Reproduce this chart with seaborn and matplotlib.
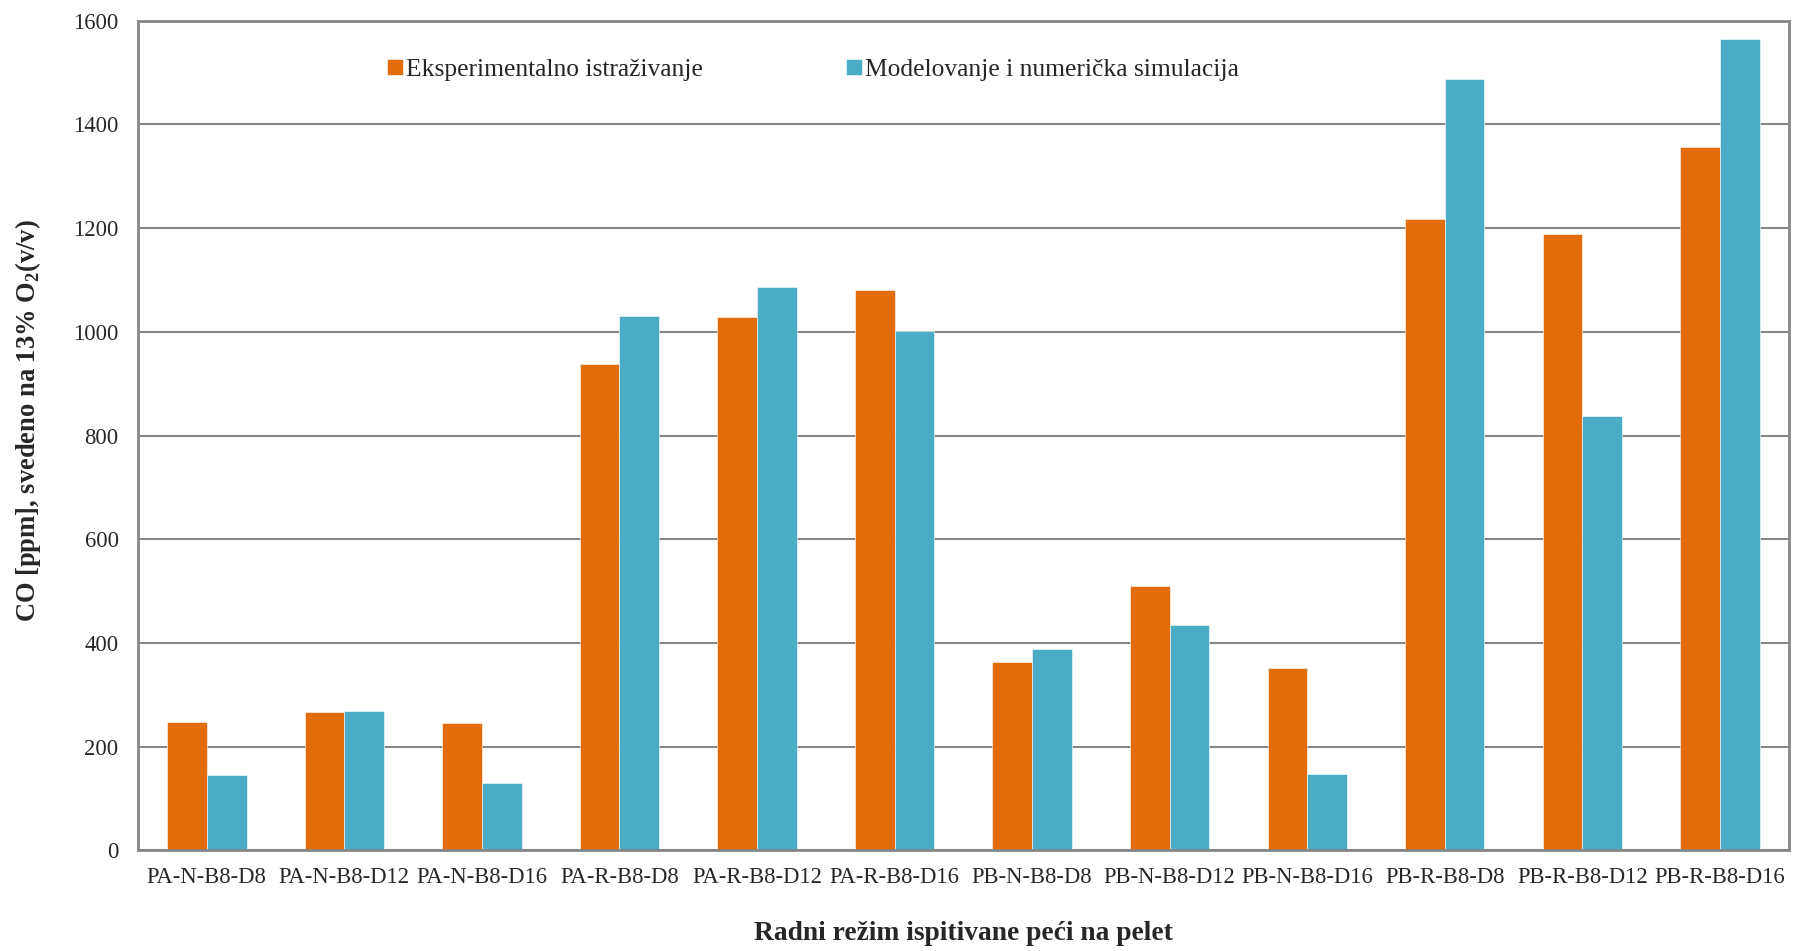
import numpy as np
import pandas as pd
import seaborn as sns
import matplotlib.pyplot as plt
from matplotlib.ticker import MultipleLocator, FixedLocator

rezimi = ['PA-N-B8-D8', 'PA-N-B8-D12', 'PA-N-B8-D16', 'PA-R-B8-D8', 'PA-R-B8-D12', 'PA-R-B8-D16',
          'PB-N-B8-D8', 'PB-N-B8-D12', 'PB-N-B8-D16', 'PB-R-B8-D8', 'PB-R-B8-D12', 'PB-R-B8-D16']
eksperiment = [248, 266, 246, 937, 1028, 1080, 363, 510, 352, 1217, 1189, 1356]
simulacija = [145, 268, 129, 1030, 1086, 1002, 388, 435, 147, 1488, 837, 1565]
serije = ['Eksperimentalno istraživanje', 'Modelovanje i numerička simulacija']

df = pd.DataFrame({
    'rezim': rezimi * 2,
    'co': eksperiment + simulacija,
    'serija': [serije[0]] * len(rezimi) + [serije[1]] * len(rezimi),
})

sns.set_style('white')
plt.rcParams['font.family'] = ['Liberation Serif', 'DejaVu Serif']
plt.rcParams['mathtext.fontset'] = 'custom'
plt.rcParams['mathtext.rm'] = 'Liberation Serif'
plt.rcParams['mathtext.bf'] = 'Liberation Serif:bold'

grey = '#868686'
fig = plt.figure(figsize=(18, 9.51), dpi=100)
ax = fig.add_axes([0.0767, 0.1059, 0.9170, 0.8723])

sns.barplot(data=df, x='rezim', y='co', hue='serija', palette=['#E36C0A', '#4BACC6'],
            saturation=1, width=0.577, gap=0, edgecolor='white', linewidth=0.4, ax=ax)

ax.set_ylim(0, 1600)
ax.set_xlim(-0.5, len(rezimi) - 0.5)
ax.yaxis.set_major_locator(MultipleLocator(200))
ax.grid(axis='y', color=grey, lw=1.5)
ax.set_axisbelow(True)
for s in ax.spines.values():
    s.set_color(grey)
    s.set_linewidth(2)

ax.tick_params(axis='x', which='major', length=0, pad=12, labelsize=16.3)
ax.xaxis.set_minor_locator(FixedLocator(np.arange(0.5, len(rezimi) - 0.5, 1)))
ax.tick_params(axis='x', which='minor', direction='in', length=7, width=1.2, color=grey)
ax.tick_params(axis='y', direction='in', length=5, width=1.2, color=grey, pad=14, labelsize=16.3)

ax.set_xlabel('Radni režim ispitivane peći na pelet', fontsize=19.8, fontweight='bold', labelpad=24)
ax.set_ylabel(r'CO [ppm], svedeno na 13% O$_\mathbf{2}$(v/v)', fontsize=19.1, fontweight='bold')
ax.yaxis.set_label_coords(-0.0576, 0.5175)

ax.legend(loc='center left', bbox_to_anchor=(0.137, 0.941), ncol=2, frameon=False,
          fontsize=18.4, handlelength=0.62, handleheight=0.62, handletextpad=0.12,
          columnspacing=5.6)

fig.savefig('out.png', dpi=100)
